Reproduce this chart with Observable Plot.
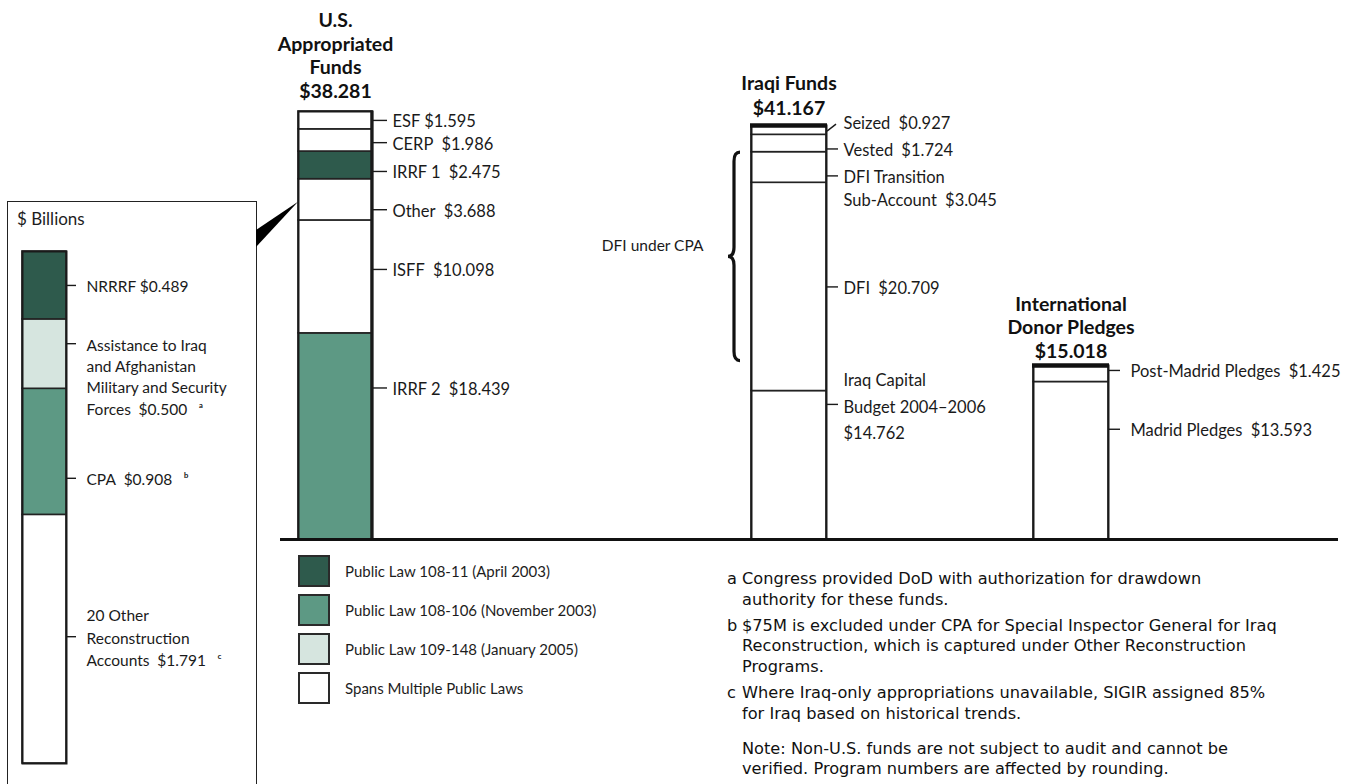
<!DOCTYPE html>
<html>
<head>
<meta charset="utf-8">
<script src="https://cdn.jsdelivr.net/npm/d3@7"></script>
<script src="https://cdn.jsdelivr.net/npm/@observablehq/plot@0.6"></script>
<style>
  body { margin: 0; background: #fff; }
  #chart { position: relative; width: 1356px; height: 784px; overflow: hidden; font-family: Lato, "Open Sans", sans-serif; color: #1d1d1d; }
  #chart > * { position: absolute; }
  .box { border: 1.5px solid #222; box-sizing: border-box; }
  .box .unit { position: absolute; left: 9px; top: 7px; font-size: 17px; line-height: 20px; }
  .legend .item { display: flex; align-items: center; height: 32px; margin-bottom: 7px; font-size: 15px; }
  .legend .sw { width: 32px; height: 32px; box-sizing: border-box; border: 2px solid #2a2a2a; margin-right: 15px; }
  .notes { font-family: "DejaVu Sans", "Open Sans", sans-serif; font-size: 16.2px; line-height: 20.8px; color: #111; }
  .notes .fn { display: flex; margin-bottom: 5px; }
  .notes .fn .l { width: 15px; flex: none; }
  .notes .note { margin-left: 15px; margin-top: 14px; }
</style>
</head>
<body>
<div id="chart"></div>
<script>
// ================= DATA =================
const lawNames = [
  "Public Law 108-11 (April 2003)",
  "Public Law 108-106 (November 2003)",
  "Public Law 109-148 (January 2005)",
  "Spans Multiple Public Laws"
];
const lawColors = ["#2e5a4c", "#5d9984", "#d6e5df", "#ffffff"];

// U.S. Appropriated Funds (bottom to top)
const usTitle = "U.S.\nAppropriated\nFunds";
const usTotal = 38.281;
const usNames = ["IRRF 2", "ISFF", "Other", "IRRF 1", "CERP", "ESF"];
const usValues = [18.439, 10.098, 3.688, 2.475, 1.986, 1.595];
const usLaws = [lawNames[1], lawNames[3], lawNames[3], lawNames[0], lawNames[3], lawNames[3]];

// Iraqi Funds (bottom to top)
const iraqiTitle = "Iraqi Funds";
const iraqiTotal = 41.167;
const iraqiNames = ["Iraq Capital\nBudget 2004–2006", "DFI", "DFI Transition\nSub-Account", "Vested", "Seized"];
const iraqiValues = [14.762, 20.709, 3.045, 1.724, 0.927];
const iraqiBraceLabel = "DFI under CPA";

// International Donor Pledges (bottom to top)
const donorTitle = "International\nDonor Pledges";
const donorTotal = 15.018;
const donorNames = ["Madrid Pledges", "Post-Madrid Pledges"];
const donorValues = [13.593, 1.425];

// Breakdown of "Other" (bottom to top)
const otherUnit = "$ Billions";
const otherNames = ["20 Other\nReconstruction\nAccounts", "CPA", "Assistance to Iraq\nand Afghanistan\nMilitary and Security\nForces", "NRRRF"];
const otherValues = [1.791, 0.908, 0.500, 0.489];
const otherLaws = [lawNames[3], lawNames[1], lawNames[2], lawNames[0]];
const otherNotes = ["c", "b", "a", ""];

// Footnotes
const footLetters = ["a", "b", "c"];
const footTexts = [
  "Congress provided DoD with authorization for drawdown\nauthority for these funds.",
  "$75M is excluded under CPA for Special Inspector General for Iraq\nReconstruction, which is captured under Other Reconstruction\nPrograms.",
  "Where Iraq-only appropriations unavailable, SIGIR assigned 85%\nfor Iraq based on historical trends."
];
const noteText = "Note: Non-U.S. funds are not subject to audit and cannot be\nverified. Program numbers are affected by rounding.";

// ================= LAYOUT =================
const INK = "#1a1a1a";
const SP = "\u2002";
const sup = {a: "\u1d43", b: "\u1d47", c: "\u1d9c"};
// frac: where the leader sits inside its segment (from segment bottom); k: line of the label at the leader
const usLayout = {frac: [0.735, 0.566, 0.26, 0.28, 0.40, 0.5], sep: [SP, SP, SP, SP, SP, " "]};
const iraqiLayout = {frac: [0.91, 0.5, 0.225, 0.185, 0.5], sep: ["\n", SP, SP, SP, SP], k: [1, 0, 0, 0, 0], lh: [1.6, 1.3, 1.36, 1.3, 1.3], dy: [0, 0, 0, 0, -8.5], slant: [false, false, false, false, true]};
const donorLayout = {frac: [0.70, 0.70], sep: [SP, SP]};
const otherLayout = {frac: [0.51, 0.29, 0.65, 0.5], sep: [SP, SP, SP, " "], k: [1, 0, 0, 0], lh: [1.45, 1.3, 1.38, 1.3]};

const fmt = d3.format(".3f");
const money = v => "$" + fmt(v);

function buildRows(group, names, values, laws, layout, notes) {
  const ends = d3.cumsum(values);
  return names.map((name, i) => {
    const y1 = ends[i] - values[i];
    let label = name + layout.sep[i] + money(values[i]);
    if (notes && notes[i]) label += "\u2003" + sup[notes[i]];
    return {
      group, name, value: values[i], law: laws ? laws[i] : null, y1, y2: ends[i],
      ty: y1 + layout.frac[i] * values[i], label,
      n: label.split("\n").length,
      k: layout.k ? layout.k[i] : 0,
      lh: layout.lh ? layout.lh[i] : 1.3,
      dy: layout.dy ? layout.dy[i] : 0,
      slant: layout.slant ? layout.slant[i] : false
    };
  });
}

function stackPlot(cfg) {
  const {group, rows, total, width, height, marginLeft, marginRight, marginTop, marginBottom,
         title, titleLh = 1.2, titleDy = -13, topRule = false, tickLen, labelDx, fontSize = 16,
         baseline = true, rightEdge = 0} = cfg;
  const barW = width - marginLeft - marginRight;
  const marks = [
    Plot.barY(rows, {x: "group", y: "value", fill: rows[0].law ? "law" : "white", stroke: "#222", strokeWidth: 1.6}),
    Plot.frame({stroke: "#1a1a1a", strokeWidth: 2}),
    Plot.ruleY(rows.filter(d => !d.slant), {y: "ty", insetLeft: barW, insetRight: -tickLen, stroke: INK, strokeWidth: 1.4}),
    ...rows.map(d => Plot.text([d], {
      y: "ty", text: "label", frameAnchor: "right", textAnchor: "start",
      dx: labelDx, dy: ((d.n - 1) / 2 - d.k) * d.lh * fontSize + d.dy,
      lineAnchor: "middle", lineHeight: d.lh, fontSize, fill: INK
    }))
  ];
  if (rightEdge) marks.push(Plot.frame({insetLeft: barW - rightEdge, stroke: "#1a1a1a", strokeWidth: 1.5, fill: "#1a1a1a"}));
  if (topRule) marks.push(Plot.ruleY([total], {stroke: "#111", strokeWidth: 4.5, insetLeft: -1, insetRight: -1}));
  if (baseline) marks.push(Plot.ruleY([0], {stroke: "#111", strokeWidth: 3, insetLeft: -marginLeft, insetRight: -marginRight}));
  if (title) marks.push(Plot.text([total], {
    y: d => d, text: d => title + "\n" + money(d), lineAnchor: "bottom", dy: titleDy,
    lineHeight: titleLh, fontSize: 19.5, fontWeight: "bold", fill: "#111"
  }));
  if (cfg.extra) marks.push(...cfg.extra);
  return Plot.plot({
    width, height, marginLeft, marginRight, marginTop, marginBottom,
    x: {type: "band", domain: [group], padding: 0, axis: null},
    y: {domain: [0, total], axis: null},
    color: {type: "ordinal", domain: lawNames, range: lawColors},
    style: {background: "transparent", overflow: "visible", fontFamily: "Lato, 'Open Sans', sans-serif"},
    marks
  });
}

const chart = d3.select("#chart");

// ---- inset box ----
const box = chart.append("div").attr("class", "box")
  .style("left", "7px").style("top", "201px").style("width", "250px").style("height", "700px");
box.append("div").attr("class", "unit").text(otherUnit);

const otherRows = buildRows("Other", otherNames, otherValues, otherLaws, otherLayout, otherNotes);
const otherPlot = stackPlot({
  group: "Other", rows: otherRows, total: d3.sum(otherValues),
  width: 256, height: 784, marginLeft: 22, marginRight: 190, marginTop: 251, marginBottom: 21,
  tickLen: 10, labelDx: 20, fontSize: 15.5, baseline: false
});
chart.append(() => otherPlot).style("left", "0px").style("top", "0px");

// ---- U.S. ----
const usRows = buildRows("U.S. Appropriated Funds", usNames, usValues, usLaws, usLayout);
const usPlot = stackPlot({
  group: "U.S. Appropriated Funds", rows: usRows, total: usTotal,
  width: 320, height: 560, marginLeft: 18, marginRight: 228, marginTop: 111, marginBottom: 21,
  title: usTitle, titleLh: 1.2, titleDy: -14, tickLen: 15, labelDx: 20, fontSize: 16.5, rightEdge: 1.5
});
chart.append(() => usPlot).style("left", "280px").style("top", "0px");

// ---- Iraqi ----
const iraqiRows = buildRows("Iraqi Funds", iraqiNames, iraqiValues, null, iraqiLayout);
const dfiLow = iraqiRows[1].y1, dfiHigh = iraqiRows[2].y2;
const iraqiPlot = stackPlot({
  group: "Iraqi Funds", rows: iraqiRows, total: iraqiTotal,
  width: 410, height: 560, marginLeft: 151, marginRight: 184, marginTop: 125, marginBottom: 21,
  title: iraqiTitle, titleLh: 1.28, titleDy: -11, topRule: true, tickLen: 12, labelDx: 17, fontSize: 16.5,
  extra: [Plot.text([(dfiLow + dfiHigh) / 2], {y: d => d, text: () => iraqiBraceLabel, frameAnchor: "left",
    textAnchor: "end", dx: -48, dy: -26, fontSize: 15.5, fill: INK})]
});
chart.append(() => iraqiPlot).style("left", "600px").style("top", "0px");
{
  const y = iraqiPlot.scale("y");
  const svg = d3.select(iraqiPlot);
  const fl = 151, fr = 410 - 184;
  const yTop = y.apply(dfiHigh) + 0.5, yBot = y.apply(dfiLow) - 30, yMid = (yTop + yBot) / 2;
  const xe = fl - 11, xs = fl - 17, xt = fl - 23;
  svg.append("path")
    .attr("d", `M${xe},${yTop} Q${xs},${yTop} ${xs},${yTop + 9} L${xs},${yMid - 9} Q${xs},${yMid} ${xt},${yMid} Q${xs},${yMid} ${xs},${yMid + 9} L${xs},${yBot - 9} Q${xs},${yBot} ${xe},${yBot}`)
    .attr("fill", "none").attr("stroke", "#111").attr("stroke-width", 3.2);
  // slanted leader for the thin top segment
  iraqiRows.filter(d => d.slant).forEach(d => {
    const yy = y.apply(d.ty);
    svg.append("line").attr("x1", fr + 1).attr("y1", yy + 1.5).attr("x2", fr + 10).attr("y2", yy - 5.5)
      .attr("stroke", INK).attr("stroke-width", 1.4);
  });
}

// ---- International donors ----
const donorRows = buildRows("International Donor Pledges", donorNames, donorValues, null, donorLayout);
const donorPlot = stackPlot({
  group: "International Donor Pledges", rows: donorRows, total: donorTotal,
  width: 328, height: 560, marginLeft: 23, marginRight: 230, marginTop: 365, marginBottom: 21,
  title: donorTitle, titleLh: 1.2, titleDy: -8, topRule: true, tickLen: 12, labelDx: 22, fontSize: 16.5
});
chart.append(() => donorPlot).style("left", "1010px").style("top", "0px");

// ---- callout wedge from inset to the "Other" segment ----
{
  const y = usPlot.scale("y");
  const other = usRows.find(d => d.name === "Other");
  const tipY = y.apply(other.y1 + 0.44 * other.value);
  const tipX = 280 + 18;
  const over = chart.append("svg").attr("width", 1356).attr("height", 784)
    .style("left", "0px").style("top", "0px").style("pointer-events", "none");
  over.append("polygon").attr("points", `256,230 256,247 ${tipX},${tipY}`).attr("fill", "#000");
}

// ---- legend ----
const legend = chart.append("div").attr("class", "legend").style("left", "298px").style("top", "555px");
lawNames.forEach((name, i) => {
  const it = legend.append("div").attr("class", "item");
  it.append("div").attr("class", "sw").style("background", lawColors[i]);
  it.append("div").text(name);
});

// ---- footnotes ----
const notes = chart.append("div").attr("class", "notes").style("left", "727px").style("top", "569px").style("width", "625px");
footLetters.forEach((l, i) => {
  const fn = notes.append("div").attr("class", "fn");
  fn.append("div").attr("class", "l").text(l);
  fn.append("div").html(footTexts[i].split("\n").map(s => s.replace(/&/g, "&amp;").replace(/</g, "&lt;")).join("<br>"));
});
notes.append("div").attr("class", "note").html(noteText.split("\n").join("<br>"));
</script>
</body>
</html>
